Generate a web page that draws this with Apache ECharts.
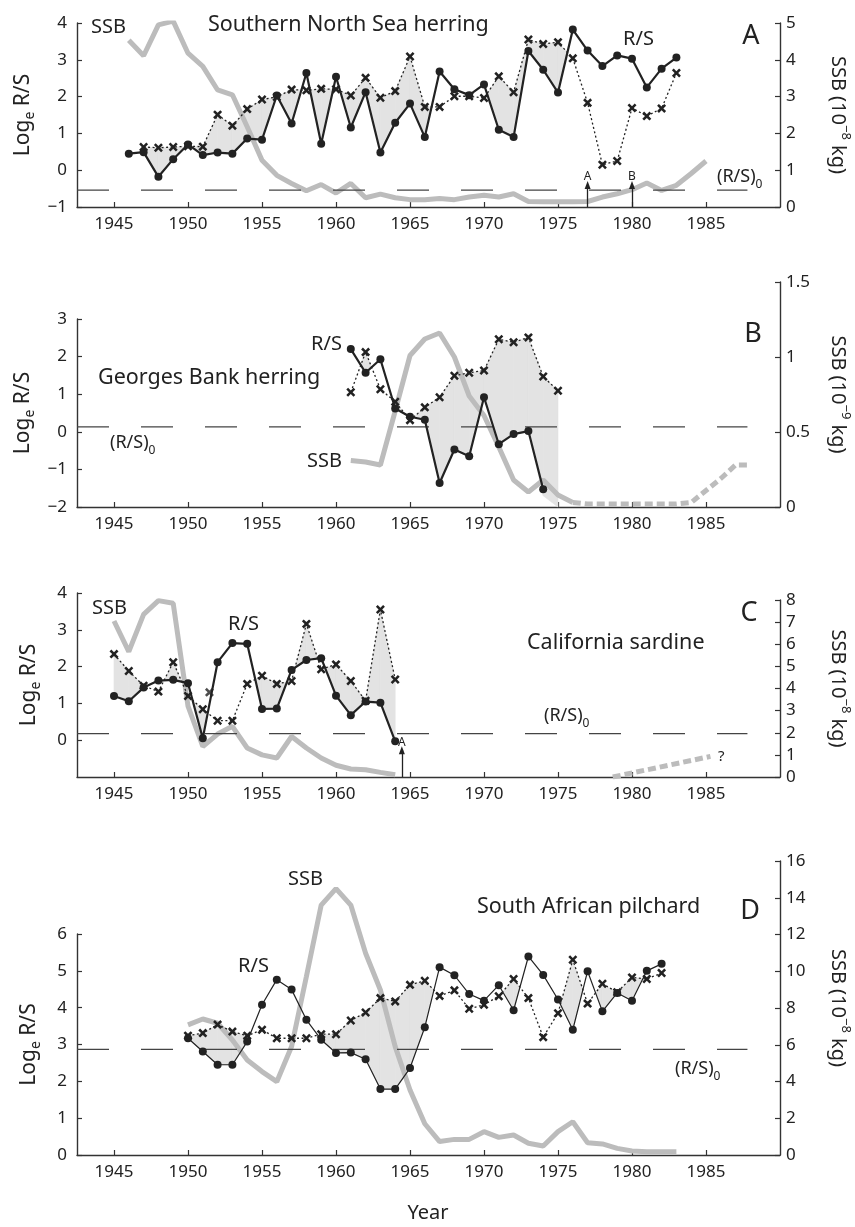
<!DOCTYPE html>
<html>
<head>
<meta charset="utf-8">
<script src="https://cdn.jsdelivr.net/npm/echarts@6/dist/echarts.min.js"></script>
<style>
  html, body { margin: 0; padding: 0; background: #fff; }
  #chart { width: 855px; height: 1227px; }
</style>
</head>
<body>
<div id="chart"></div>
<script>
// ---- values ----
const yearTicks = [1945, 1950, 1955, 1960, 1965, 1970, 1975, 1980, 1985];

// A: Southern North Sea herring
const rsA_from = 1946;
const rsA = [0.45, 0.49, -0.18, 0.3, 0.7, 0.41, 0.48, 0.45, 0.86, 0.83, 2.03, 1.27, 2.64, 0.72, 2.54, 1.16, 2.12, 0.48, 1.29, 1.81,
  0.9, 2.68, 2.2, 2.04, 2.33, 1.1, 0.9, 3.24, 2.73, 2.11, 3.82, 3.25, 2.83, 3.12, 3.03, 2.25, 2.76, 3.06];
const expA_from = 1947;
const expA = [0.63, 0.61, 0.63, 0.65, 0.64, 1.51, 1.21, 1.66, 1.92, 1.99, 2.19, 2.17, 2.21, 2.2, 2.03, 2.51, 1.97, 2.15, 3.09,
  1.72, 1.72, 2.01, 2.01, 1.96, 2.55, 2.12, 3.55, 3.43, 3.48, 3.04, 1.83, 0.15, 0.25, 1.69, 1.47, 1.68, 2.64];
const ssbA_from = 1946;
const ssbA = [4.53, 4.11, 4.95, 5.05, 4.18, 3.82, 3.18, 3.05, 2.18, 1.27, 0.86, 0.64, 0.44, 0.61, 0.38, 0.64, 0.25, 0.35, 0.25, 0.2,
  0.2, 0.23, 0.2, 0.27, 0.32, 0.27, 0.36, 0.15, 0.14, 0.14, 0.14, 0.15, 0.27, 0.36, 0.47, 0.65, 0.45, 0.59, 0.91, 1.25];
const rs0A = -0.54;
const arrowsA = [{ year: 1977, tip: -0.4, text: 'A' }, { year: 1980, tip: -0.4, text: 'B' }];

// B: Georges Bank herring
const rsB_from = 1961;
const rsB = [2.2, 1.57, 1.93, 0.62, 0.4, 0.32, -1.36, -0.47, -0.65, 0.92, -0.33, -0.06, 0.02, -1.53];
const expB_from = 1961;
const expB = [1.05, 2.12, 1.13, 0.8, 0.31, 0.65, 0.92, 1.49, 1.57, 1.63, 2.46, 2.38, 2.51, 1.47, 1.09];
const shadeLowB = [2.2, 1.57, 1.93, 0.62, 0.4, 0.32, -1.36, -0.47, -0.65, 0.92, -0.33, -0.06, 0.02, -1.7, -2.0];
const ssbB_from = 1961;
const ssbB = [0.31, 0.3, 0.28, 0.64, 1.01, 1.12, 1.16, 1.0, 0.74, 0.61, 0.4, 0.18, 0.1, 0.18, 0.08, 0.03];
const ssbBLater_from = 1976;
const ssbBLater = [0.03, 0.02, 0.02, 0.02, 0.02, 0.02, 0.02, 0.02, 0.03, 0.11, 0.19, 0.28, 0.28];
const rs0B = 0.13;

// C: California sardine
const rsC_from = 1945;
const rsC = [1.2, 1.06, 1.43, 1.62, 1.64, 1.55, 0.05, 2.12, 2.64, 2.62, 0.85, 0.86, 1.91, 2.18, 2.23, 1.21, 0.68, 1.05, 1.02, -0.03];
const expC_from = 1945;
const expC = [2.34, 1.88, 1.48, 1.32, 2.12, 1.2, 0.84, 0.53, 0.53, 1.53, 1.75, 1.53, 1.61, 3.16, 1.93, 2.06, 1.61, 1.07, 3.55, 1.65];
const expCStray = [[1951.45, 1.3]];
const ssbC_from = 1945;
const ssbC = [7.05, 5.67, 7.35, 7.97, 7.85, 3.2, 1.38, 1.94, 2.29, 1.31, 1.0, 0.86, 1.83, 1.31, 0.86, 0.53, 0.36, 0.33, 0.21, 0.1];
const ssbCLater = [[1978.7, 0], [1985.3, 0.93]];
const rs0C = 0.18;
const arrowsC = [{ year: 1964.45, tip: -0.27, text: 'A' }];

// D: South African pilchard
const rsD_from = 1950;
const rsD = [3.17, 2.81, 2.45, 2.45, 3.08, 4.08, 4.76, 4.49, 3.67, 3.13, 2.77, 2.78, 2.6, 1.79, 1.79, 2.36, 3.47, 5.1, 4.88, 4.37,
  4.19, 4.61, 3.93, 5.39, 4.89, 4.22, 3.4, 4.99, 3.9, 4.4, 4.19, 5.0, 5.19];
const expD_from = 1950;
const expD = [3.24, 3.31, 3.54, 3.35, 3.24, 3.4, 3.17, 3.17, 3.17, 3.28, 3.28, 3.65, 3.87, 4.26, 4.17, 4.62, 4.73, 4.32, 4.47, 3.97,
  4.08, 4.31, 4.78, 4.26, 3.2, 3.85, 5.3, 4.11, 4.65, 4.42, 4.82, 4.78, 4.94];
const ssbD_from = 1950;
const ssbD = [7.08, 7.4, 7.17, 6.26, 5.17, 4.54, 3.99, 5.9, 9.71, 13.6, 14.5, 13.6, 10.98, 8.98, 5.9, 3.54, 1.7, 0.73, 0.85, 0.85,
  1.27, 0.96, 1.09, 0.64, 0.49, 1.27, 1.81, 0.67, 0.6, 0.36, 0.22, 0.18, 0.18, 0.18];
const rs0D = 2.87;

// ---- styling ----
const FONT = 'Noto Sans';
const INK = '#222';
const AXIS = '#333';
const SSB_GREY = '#bcbcbc';
const SHADE = '#e3e3e3';
const X_MIN = 1942.5, X_MAX = 1990, RS0_END = 1987.8;
const CROSS = 'path://M2,0L5,3L8,0L10,2L7,5L10,8L8,10L5,7L2,10L0,8L3,5L0,2Z';

function pairs(from, vals) { return vals.map((v, i) => [from + i, v]); }

// shaded band where the expected (x) value is above the observed R/S
function shadeSegments(upFrom, up, lowFrom, low) {
  const segs = [];
  for (let i = 0; i < up.length - 1; i++) {
    const y = upFrom + i;
    const j = y - lowFrom;
    if (j < 0 || j + 1 >= low.length) continue;
    segs.push([y, up[i], low[j], y + 1, up[i + 1], low[j + 1]]);
  }
  return segs;
}

function shadeRender(params, api) {
  const x0 = api.value(0), u0 = api.value(1), l0 = api.value(2);
  const x1 = api.value(3), u1 = api.value(4), l1 = api.value(5);
  const d0 = u0 - l0, d1 = u1 - l1;
  let pts;
  if (d0 <= 0 && d1 <= 0) return null;
  if (d0 >= 0 && d1 >= 0) {
    pts = [[x0, u0], [x1, u1], [x1, l1], [x0, l0]];
  } else {
    const t = d0 / (d0 - d1);
    const xc = x0 + t * (x1 - x0), yc = l0 + t * (l1 - l0);
    pts = d0 > 0 ? [[x0, u0], [xc, yc], [x0, l0]] : [[xc, yc], [x1, u1], [x1, l1]];
  }
  return {
    type: 'polygon',
    shape: { points: pts.map(p => api.coord(p)) },
    style: { fill: SHADE, stroke: SHADE, lineWidth: 0.6 }
  };
}

const minusFmt = v => (v < 0 ? '\u2212' + Math.abs(v) : String(v));

const panels = [
  {
    topL: 23, topR: 23, bottom: 207, yL: [-1, 4, 1], yR: [0, 5, 1], rsWidth: 2.2,
    rightName: 'SSB (10{sup|\u22128} kg)',
    rs: pairs(rsA_from, rsA), exp: pairs(expA_from, expA), ssb: pairs(ssbA_from, ssbA), rs0: rs0A,
    shade: shadeSegments(expA_from, expA, rsA_from, rsA), arrows: arrowsA
  },
  {
    topL: 319, topR: 282, bottom: 507, yL: [-2, 3, 1], yR: [0, 1.5, 0.5], rsWidth: 2.2,
    rightName: 'SSB (10{sup|\u22129} kg)',
    rs: pairs(rsB_from, rsB), exp: pairs(expB_from, expB), ssb: pairs(ssbB_from, ssbB),
    ssbLater: pairs(ssbBLater_from, ssbBLater), rs0: rs0B,
    shade: shadeSegments(expB_from, expB, rsB_from, shadeLowB)
  },
  {
    topL: 593, topR: 600, bottom: 777, yL: [-1, 4, 1], yR: [0, 8, 1], rsWidth: 2.2, yLLabels: [0, 1, 2, 3, 4],
    rightName: 'SSB (10{sup|\u22128} kg)',
    rs: pairs(rsC_from, rsC), exp: pairs(expC_from, expC), expStray: expCStray, ssb: pairs(ssbC_from, ssbC),
    ssbLater: ssbCLater, rs0: rs0C,
    shade: shadeSegments(expC_from, expC, rsC_from, rsC), arrows: arrowsC
  },
  {
    topL: 934, topR: 861, bottom: 1155, yL: [0, 6, 1], yR: [0, 16, 2], rsWidth: 1.2,
    rightName: 'SSB (10{sup|\u22128} kg)',
    rs: pairs(rsD_from, rsD), exp: pairs(expD_from, expD), ssb: pairs(ssbD_from, ssbD), rs0: rs0D,
    shade: shadeSegments(expD_from, expD, rsD_from, rsD)
  }
];

const H = 1227, LEFT = 77, RIGHT = 75;
const grid = [], xAxis = [], yAxis = [], series = [];

const tickStyle = { show: true, inside: true, length: 5, lineStyle: { color: AXIS, width: 1.2 } };
const lineStyleAxis = { show: true, onZero: false, lineStyle: { color: AXIS, width: 1.4 } };

panels.forEach((p, i) => {
  const gL = 2 * i, gR = 2 * i + 1;
  grid.push({ left: LEFT, right: RIGHT, top: p.topL, bottom: H - p.bottom, containLabel: false, outerBoundsMode: 'none' });
  grid.push({ left: LEFT, right: RIGHT, top: p.topR, bottom: H - p.bottom, containLabel: false, outerBoundsMode: 'none' });

  xAxis.push({
    type: 'value', gridIndex: gL, min: X_MIN, max: X_MAX,
    axisLine: lineStyleAxis,
    axisTick: Object.assign({ customValues: yearTicks }, tickStyle),
    axisLabel: { customValues: yearTicks, color: INK, fontFamily: FONT, fontSize: 17, margin: 9, formatter: v => String(v) },
    splitLine: { show: false }
  });
  xAxis.push({ type: 'value', gridIndex: gR, min: X_MIN, max: X_MAX, show: false, splitLine: { show: false } });

  const leftLabelVals = p.yLLabels;
  yAxis.push({
    type: 'value', gridIndex: gL, position: 'left', min: p.yL[0], max: p.yL[1], interval: p.yL[2],
    axisLine: lineStyleAxis,
    axisTick: leftLabelVals ? Object.assign({ customValues: leftLabelVals }, tickStyle) : tickStyle,
    axisLabel: Object.assign({ color: INK, fontFamily: FONT, fontSize: 17, margin: 10, formatter: minusFmt },
      leftLabelVals ? { customValues: leftLabelVals } : {}),
    splitLine: { show: false },
    name: 'Log{e|e} R/S', nameLocation: 'middle', nameGap: 34,
    nameTextStyle: {
      color: INK, fontFamily: FONT, fontSize: 21, lineHeight: 28,
      rich: { e: { fontFamily: FONT, fontSize: 14, lineHeight: 14, color: INK, verticalAlign: 'bottom' } }
    }
  });
  yAxis.push({
    type: 'value', gridIndex: gR, position: 'right', min: p.yR[0], max: p.yR[1], interval: p.yR[2],
    axisLine: lineStyleAxis,
    axisTick: tickStyle,
    axisLabel: { color: INK, fontFamily: FONT, fontSize: 17, margin: 6 },
    splitLine: { show: false },
    name: p.rightName, nameLocation: 'middle', nameGap: 44, nameRotate: -90,
    nameTextStyle: {
      color: INK, fontFamily: FONT, fontSize: 20, lineHeight: 28,
      rich: { sup: { fontFamily: FONT, fontSize: 13, lineHeight: 13, color: INK, verticalAlign: 'top' } }
    }
  });

  // shading between the two R/S curves
  series.push({
    type: 'custom', xAxisIndex: gL, yAxisIndex: gL, z: 1, silent: true,
    renderItem: shadeRender, data: p.shade, encode: { x: [0, 3], y: [1, 2, 4, 5] }
  });
  // spawning stock biomass
  series.push({
    type: 'line', xAxisIndex: gR, yAxisIndex: gR, z: 2, data: p.ssb, symbol: 'none',
    lineStyle: { color: SSB_GREY, width: 5 }
  });
  if (p.ssbLater) {
    series.push({
      type: 'line', xAxisIndex: gR, yAxisIndex: gR, z: 2, data: p.ssbLater, symbol: 'none',
      lineStyle: { color: SSB_GREY, width: 5, type: [8, 4] }
    });
  }
  // (R/S)0 replacement line
  const rs0Series = {
    type: 'line', xAxisIndex: gL, yAxisIndex: gL, z: 3, symbol: 'none',
    data: [[X_MIN, p.rs0], [RS0_END, p.rs0]],
    lineStyle: { color: '#444', width: 1.3, type: [32, 32] }
  };
  if (p.arrows) {
    rs0Series.markLine = {
      silent: true, symbol: ['none', 'triangle'], symbolSize: [6, 8],
      lineStyle: { color: INK, width: 1.3, type: 'solid' },
      label: { show: true, position: 'end', formatter: '{b}', color: INK, fontFamily: FONT, fontSize: 12, distance: 2 },
      data: p.arrows.map(a => [{ name: a.text, coord: [a.year, p.yL[0]] }, { coord: [a.year, a.tip] }])
    };
  }
  series.push(rs0Series);
  // expected R/S (crosses, dotted)
  series.push({
    type: 'line', xAxisIndex: gL, yAxisIndex: gL, z: 4, data: p.exp,
    symbol: CROSS, symbolSize: 9, showAllSymbol: true,
    itemStyle: { color: INK }, lineStyle: { color: INK, width: 1.3, type: [2, 2.5] }
  });
  if (p.expStray) {
    series.push({
      type: 'scatter', xAxisIndex: gL, yAxisIndex: gL, z: 4, data: p.expStray,
      symbol: CROSS, symbolSize: 9, itemStyle: { color: INK }
    });
  }
  // observed R/S (dots, solid)
  series.push({
    type: 'line', xAxisIndex: gL, yAxisIndex: gL, z: 5, data: p.rs,
    symbol: 'circle', symbolSize: 8, showAllSymbol: true,
    itemStyle: { color: INK }, lineStyle: { color: INK, width: p.rsWidth }
  });
});

// annotation text
function txt(x, y, text, size, align, extra) {
  return {
    type: 'text', x: x, y: y, silent: true, z: 100,
    style: Object.assign({
      text: text, fill: INK, fontFamily: FONT, fontSize: size,
      align: align || 'left', verticalAlign: 'middle'
    }, extra || {})
  };
}
const subRich = {
  lineHeight: 28,
  rich: { s: { fontFamily: FONT, fontSize: 12, lineHeight: 12, fill: INK, verticalAlign: 'bottom' } }
};
const labels = [
  // A
  txt(91, 27, 'SSB', 20),
  txt(208, 25, 'Southern North Sea herring', 21.5),
  txt(623, 39, 'R/S', 20),
  txt(751, 36, 'A', 27, 'center'),
  txt(717, 177, '(R/S){s|0}', 18, 'left', subRich),
  // B
  txt(753, 334, 'B', 27, 'center'),
  txt(311, 344, 'R/S', 20),
  txt(98, 378, 'Georges Bank herring', 21.5),
  txt(110, 443, '(R/S){s|0}', 18, 'left', subRich),
  txt(307, 461, 'SSB', 20),
  // C
  txt(92, 608, 'SSB', 20),
  txt(228, 624, 'R/S', 20),
  txt(527, 643, 'California sardine', 21.5),
  txt(749, 613, 'C', 27, 'center'),
  txt(544, 716, '(R/S){s|0}', 18, 'left', subRich),
  txt(718, 757, '?', 15),
  // D
  txt(288, 879, 'SSB', 20),
  txt(238, 966, 'R/S', 20),
  txt(477, 907, 'South African pilchard', 21.5),
  txt(750, 911, 'D', 27, 'center'),
  txt(675, 1069, '(R/S){s|0}', 18, 'left', subRich),
  // shared x title
  txt(428, 1213, 'Year', 20, 'center')
];

const chart = echarts.init(document.getElementById('chart'));
chart.setOption({
  animation: false,
  backgroundColor: '#fff',
  textStyle: { fontFamily: FONT },
  grid: grid,
  xAxis: xAxis,
  yAxis: yAxis,
  series: series,
  graphic: labels
});
</script>
</body>
</html>
